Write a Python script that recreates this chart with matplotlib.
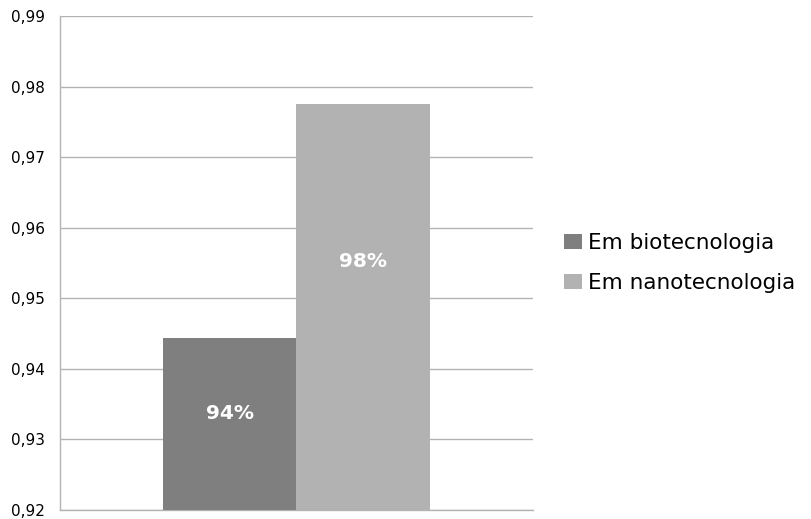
import matplotlib.pyplot as plt
import numpy as np

series = ['Em biotecnologia', 'Em nanotecnologia']
values = [0.9444, 0.9775]
labels = ['94%', '98%']
colors = ['#7f7f7f', '#b2b2b2']
yticks = [0.92, 0.93, 0.94, 0.95, 0.96, 0.97, 0.98, 0.99]

# where the data labels sit (axes fraction), as in the original
label_pos = [0.196, 0.502]

fig = plt.figure(figsize=(8.11, 5.19), dpi=100)
ax = fig.add_axes([0.074, 0.0173, 0.583, 0.952])

width = 0.283
offsets = [-width / 2, width / 2]
for name, v, lab, c, off, ly in zip(series, values, labels, colors, offsets, label_pos):
    ax.bar(off, v - 0.92, width, bottom=0.92, color=c, label=name, zorder=3)
    ax.text(off, ly, lab, ha='center', va='center', transform=ax.get_xaxis_transform(),
            color='white', fontsize=14.5, fontweight='bold', zorder=4)

ax.set_xlim(-0.5, 0.5)
ax.set_ylim(0.92, 0.99)
ax.set_yticks(yticks)
ax.set_yticklabels([f'{t:.2f}'.replace('.', ',') for t in yticks], fontsize=11)
ax.set_xticks([])
ax.tick_params(axis='y', length=0, pad=11)
ax.grid(axis='y', color='#b3b3b3', linewidth=1, zorder=0)
for s in ['top', 'right']:
    ax.spines[s].set_visible(False)
for s in ['left', 'bottom']:
    ax.spines[s].set_color('#b3b3b3')
    ax.spines[s].set_linewidth(1)

ax.legend(loc='center left', bbox_to_anchor=(1.035, 0.5), frameon=False,
          fontsize=15.5, handlelength=0.8, handleheight=0.7, handletextpad=0.3,
          labelspacing=0.9, borderaxespad=0.3)

fig.savefig('out.png', dpi=100)
